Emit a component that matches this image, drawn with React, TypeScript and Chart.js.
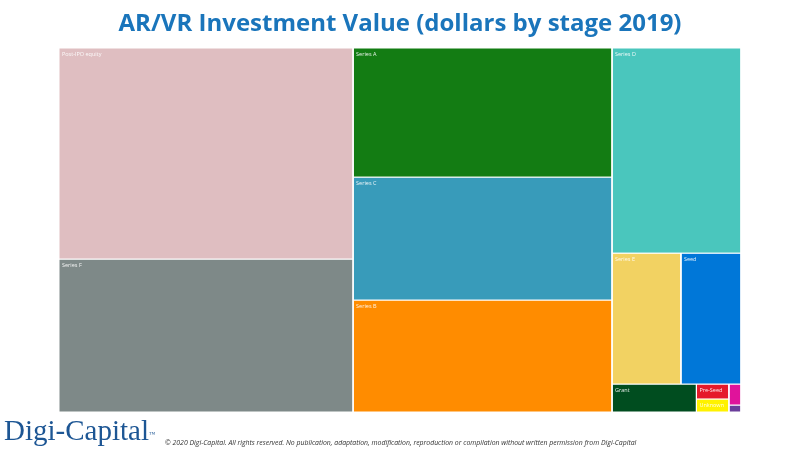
import React, { useEffect, useRef } from "react";
import { Chart, registerables } from "chart.js";

Chart.register(...registerables);

// ---- Data (values in $M) ----
const stages = [
  "Post-IPO equity",
  "Series F",
  "Series A",
  "Series C",
  "Series B",
  "Series D",
  "Series E",
  "Seed",
  "Grant",
  "Pre-Seed",
  "Unknown",
  "Debt",
  "Other",
];
const values = [1025, 743, 552, 526, 479, 437, 149, 130, 39, 8, 7, 4.2, 1.4];
const colors = [
  "#dfbec1",
  "#7e8988",
  "#137c13",
  "#389bba",
  "#ff8c00",
  "#4ac6bd",
  "#f2d262",
  "#0077d8",
  "#004d1f",
  "#e51a2a",
  "#fff200",
  "#e0139b",
  "#6a3d9a",
];

const titleText = "AR/VR Investment Value (dollars by stage 2019)";
const copyrightText =
  "\u00A9 2020 Digi-Capital. All rights reserved. No publication, adaptation,  modification, reproduction or compilation without written permission from Digi-Capital";

// ---- Treemap grouping (structure only: which stages share a row/column) ----
type Node = number | { dir: "h" | "v"; children: Node[] };
const tree: Node = {
  dir: "h",
  children: [
    { dir: "v", children: [0, 1] },
    { dir: "v", children: [2, 3, 4] },
    {
      dir: "v",
      children: [
        5,
        { dir: "h", children: [6, 7] },
        {
          dir: "h",
          children: [8, { dir: "v", children: [9, 10] }, { dir: "v", children: [11, 12] }],
        },
      ],
    },
  ],
};

type Rect = { x0: number; y0: number; x1: number; y1: number };

function nodeSum(n: Node): number {
  if (typeof n === "number") return values[n];
  return n.children.reduce((a, c) => a + nodeSum(c), 0);
}

function layout(n: Node, x0: number, y0: number, x1: number, y1: number, out: Rect[]) {
  if (typeof n === "number") {
    out[n] = { x0, y0, x1, y1 };
    return;
  }
  const total = nodeSum(n);
  let acc = 0;
  for (const c of n.children) {
    const s = nodeSum(c);
    const f0 = acc / total;
    const f1 = (acc + s) / total;
    acc += s;
    if (n.dir === "h") layout(c, x0 + (x1 - x0) * f0, y0, x0 + (x1 - x0) * f1, y1, out);
    else layout(c, x0, y0 + (y1 - y0) * f0, x1, y0 + (y1 - y0) * f1, out);
  }
}

export default function App() {
  const canvasRef = useRef<HTMLCanvasElement | null>(null);

  useEffect(() => {
    const canvas = canvasRef.current;
    if (!canvas) return;
    const rects: Rect[] = [];
    layout(tree, 0, 0, 100, 100, rects);

    const datasets = rects.map((r, i) => ({
      label: stages[i],
      data: [
        { x: r.x0, y: r.y0 },
        { x: r.x1, y: r.y0 },
        { x: r.x1, y: r.y1 },
        { x: r.x0, y: r.y1 },
        { x: r.x0, y: r.y0 },
      ],
      showLine: true,
      fill: "shape",
      backgroundColor: colors[i],
      borderColor: "#ffffff",
      borderWidth: 1,
      pointRadius: 0,
      pointHoverRadius: 0,
      tension: 0,
    }));

    const labelPlugin = {
      id: "cellLabels",
      afterDatasetsDraw(chart: any) {
        const { ctx } = chart;
        const xs = chart.scales.x;
        const ys = chart.scales.y;
        ctx.save();
        ctx.font = '5.5px "Open Sans"';
        ctx.fillStyle = "rgba(255,255,255,0.9)";
        ctx.textBaseline = "top";
        ctx.textAlign = "left";
        rects.forEach((r, i) => {
          const px0 = xs.getPixelForValue(r.x0);
          const px1 = xs.getPixelForValue(r.x1);
          const py0 = ys.getPixelForValue(r.y0);
          const py1 = ys.getPixelForValue(r.y1);
          const w = Math.abs(px1 - px0);
          const h = Math.abs(py1 - py0);
          if (w < 20 || h < 10) return;
          ctx.fillText(stages[i], Math.min(px0, px1) + 3, Math.min(py0, py1) + 4);
        });
        ctx.restore();
      },
    };

    const chart = new Chart(canvas, {
      type: "scatter",
      data: { datasets: datasets as any },
      options: {
        responsive: false,
        animation: false,
        events: [],
        layout: { padding: { left: 59, right: 59, top: 0, bottom: 38 } },
        scales: {
          x: { type: "linear", min: 0, max: 100, display: false },
          y: { type: "linear", min: 0, max: 100, reverse: true, display: false },
        },
        plugins: {
          legend: { display: false },
          tooltip: { enabled: false },
          title: {
            display: true,
            text: titleText,
            color: "#1a75bb",
            font: { family: '"Open Sans"', size: 24, weight: "bold", lineHeight: 1.2 },
            padding: { top: 10, bottom: 9.2 },
          },
        },
      },
      plugins: [labelPlugin],
    });

    return () => {
      chart.destroy();
    };
  }, []);

  return (
    <div style={{ position: "absolute", left: 0, top: 0, width: 800, height: 450, background: "#fff" }}>
      <canvas ref={canvasRef} width={800} height={450} style={{ display: "block" }} />
      <div
        style={{
          position: "absolute",
          left: 4,
          top: 414,
          fontFamily: '"Liberation Serif", serif',
          fontSize: 29,
          color: "#1d5694",
          whiteSpace: "nowrap",
          lineHeight: "32px",
        }}
      >
        Digi-Capital
        <span style={{ fontSize: 6, verticalAlign: "top", position: "relative", top: 4 }}>™</span>
      </div>
      <div
        style={{
          position: "absolute",
          left: 165,
          top: 438,
          fontFamily: '"Open Sans", sans-serif',
          fontStyle: "italic",
          fontSize: 6.9,
          color: "#333",
          whiteSpace: "nowrap",
          lineHeight: "9px",
        }}
      >
        {copyrightText}
      </div>
    </div>
  );
}
